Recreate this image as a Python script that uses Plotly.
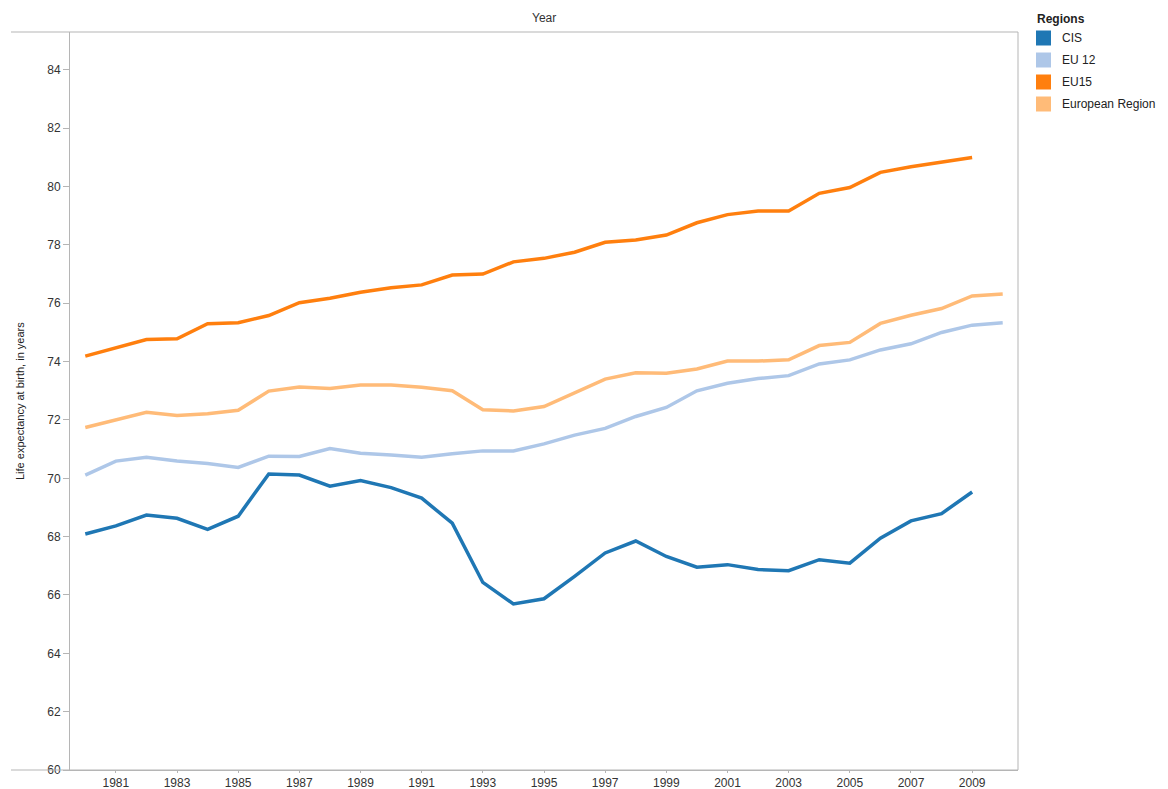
import plotly.graph_objects as go

years = list(range(1980, 2011))

cis = [68.09, 68.37, 68.74, 68.63, 68.25, 68.70, 70.15, 70.11, 69.73, 69.92,
       69.68, 69.32, 68.46, 66.43, 65.69, 65.87, 66.64, 67.44, 67.85, 67.32,
       66.95, 67.04, 66.87, 66.83, 67.21, 67.09, 67.95, 68.54, 68.79, 69.53, None]
eu12 = [70.11, 70.59, 70.72, 70.59, 70.51, 70.37, 70.76, 70.75, 71.02, 70.86,
        70.80, 70.72, 70.84, 70.94, 70.94, 71.18, 71.48, 71.71, 72.12, 72.43,
        73.00, 73.26, 73.42, 73.52, 73.92, 74.06, 74.40, 74.61, 75.00, 75.25, 75.33]
eu15 = [74.19, 74.47, 74.76, 74.78, 75.30, 75.33, 75.58, 76.02, 76.17, 76.38,
        76.53, 76.63, 76.97, 77.00, 77.42, 77.54, 77.75, 78.09, 78.17, 78.34,
        78.76, 79.04, 79.16, 79.16, 79.77, 79.97, 80.49, 80.68, 80.83, 81.00, None]
euro = [71.74, 71.99, 72.26, 72.15, 72.21, 72.33, 72.99, 73.13, 73.08, 73.20,
        73.20, 73.12, 73.00, 72.35, 72.31, 72.46, 72.92, 73.40, 73.62, 73.60,
        73.75, 74.02, 74.02, 74.06, 74.55, 74.66, 75.31, 75.59, 75.82, 76.25, 76.32]

series_names = ["CIS", "EU 12", "EU15", "European Region"]
series_values = [cis, eu12, eu15, euro]
colors = ["#1f77b4", "#aec7e8", "#ff7f0e", "#ffbb78"]

x_tick_labels = [str(y) for y in range(1981, 2010, 2)]
y_ticks = list(range(60, 85, 2))

FONT = "Liberation Sans, Arial, sans-serif"
GRID = "#b5b5b5"

# the page body has an 8px margin, so the figure is drawn 8px smaller
OFF = 8
W, H = 1168 - OFF, 789 - OFF
L, T = 70 - OFF, 32 - OFF
PW, PH = 948, 738
R, B = W - L - PW, H - T - PH


def px_to_paper(px, py):
    """page pixel (as in the reference) -> paper coordinates"""
    return (px - OFF - L) / PW, (T + PH - (py - OFF)) / PH


fig = go.Figure()
for name, vals, col in zip(series_names, series_values, colors):
    fig.add_trace(go.Scatter(x=years, y=vals, mode="lines", name=name,
                             line=dict(color=col, width=3.5),
                             showlegend=False, hoverinfo="x+y+name"))

fig.update_layout(
    width=W, height=H,
    margin=dict(l=L, r=R, t=T, b=B, autoexpand=False),
    paper_bgcolor="white", plot_bgcolor="white",
    font=dict(family=FONT, size=12, color="#333333"),
    showlegend=False,
    xaxis=dict(
        range=[1979.5, 2010.5],
        tickmode="array", tickvals=[int(t) for t in x_tick_labels], ticktext=x_tick_labels,
        showgrid=False, zeroline=False, automargin=False,
        showline=True, linecolor=GRID, linewidth=1, mirror=False,
        ticks="outside", ticklen=2, tickcolor=GRID,
        tickfont=dict(size=12, color="#333333"),
    ),
    yaxis=dict(
        range=[60, 85.3],
        tickmode="array", tickvals=y_ticks,
        showgrid=False, zeroline=False, automargin=False,
        showline=True, linecolor=GRID, linewidth=1,
        ticks="outside", ticklen=6, tickcolor=GRID,
        tickfont=dict(size=12, color="#333333"),
    ),
)

# header lines (Tableau style) and right border
x_left, _ = px_to_paper(11, 0)
fig.add_shape(type="line", xref="paper", yref="paper", x0=x_left, x1=1, y0=1, y1=1,
              line=dict(color=GRID, width=1))
fig.add_shape(type="line", xref="paper", yref="paper", x0=x_left, x1=1, y0=0, y1=0,
              line=dict(color=GRID, width=1))
fig.add_shape(type="line", xref="paper", yref="paper", x0=1, x1=1, y0=0, y1=1,
              line=dict(color=GRID, width=1))

fig.add_annotation(text="Year", xref="paper", yref="paper", x=0.5, y=1, yanchor="bottom",
                   yshift=5, showarrow=False, font=dict(size=12, color="#333333"))

ty_x, _ = px_to_paper(20, 0)
fig.add_annotation(text="Life expectancy at birth, in years", xref="paper", yref="paper",
                   x=ty_x, y=0.5, textangle=-90, showarrow=False,
                   xanchor="center", yanchor="middle",
                   font=dict(size=11, color="#222222"))

# legend (Tableau-style colour swatches)
lx, ly = px_to_paper(1035, 19)
fig.add_annotation(text="<b>Regions</b>", xref="paper", yref="paper", x=lx, y=ly,
                   xanchor="left", yanchor="middle", showarrow=False,
                   font=dict(size=12, color="#222222"))
for i, (name, col) in enumerate(zip(series_names, colors)):
    cy = 38 + 22 * i
    x0, y0 = px_to_paper(1036, cy + 7.5)
    x1, y1 = px_to_paper(1051, cy - 7.5)
    fig.add_shape(type="rect", xref="paper", yref="paper", x0=x0, x1=x1, y0=y0, y1=y1,
                  fillcolor=col, line=dict(width=0))
    tx, ty = px_to_paper(1060, cy)
    fig.add_annotation(text=name, xref="paper", yref="paper", x=tx, y=ty,
                       xanchor="left", yanchor="middle", showarrow=False,
                       font=dict(size=12, color="#222222"))

fig.write_html("out.html")
